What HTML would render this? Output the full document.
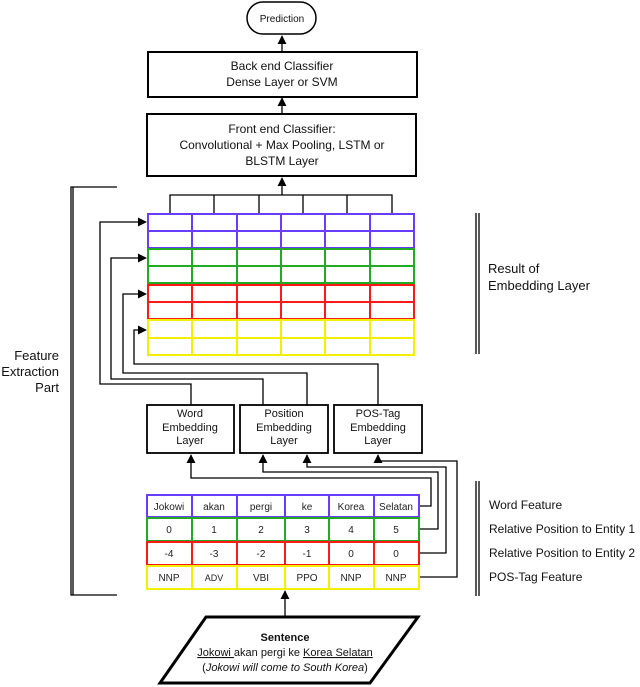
<!DOCTYPE html>
<html><head><meta charset="utf-8"><style>
html,body{margin:0;padding:0;background:#fff;}
svg{display:block;font-family:"Liberation Sans",sans-serif;}
</style></head><body>
<svg width="640" height="687" viewBox="0 0 640 687" xmlns="http://www.w3.org/2000/svg">
<defs>
<marker id="a" viewBox="0 0 10 10" refX="9" refY="5" markerWidth="7" markerHeight="7" orient="auto"><path d="M0,0L10,5L0,10z" fill="#000"/></marker>
</defs>
<g fill="none" stroke="#000" stroke-width="1.3">
<!-- top -->
<rect x="247" y="2" width="69" height="32" rx="16" stroke-width="1.5"/>
<rect x="148" y="52" width="269" height="45" stroke-width="2"/>
<rect x="147" y="114" width="269" height="62" stroke-width="2"/>
<line x1="282" y1="52" x2="282" y2="36" marker-end="url(#a)"/>
<line x1="282" y1="114" x2="282" y2="98" marker-end="url(#a)"/>
<line x1="282" y1="195" x2="282" y2="178" marker-end="url(#a)"/>
<path d="M170,214V195H392V214M214,195V214M259,195V214M303,195V214M347,195V214"/>
<!-- feeds into grid -->
<path d="M191,405V384H100V222H146" marker-end="url(#a)"/>
<path d="M263,405V379H111V258H146" marker-end="url(#a)"/>
<path d="M307,405V373H123V294H146" marker-end="url(#a)"/>
<path d="M378,405V364H134V330H146" marker-end="url(#a)"/>
<!-- embedding boxes -->
<rect x="147" y="405" width="87" height="48" stroke-width="1.8"/>
<rect x="240" y="405" width="88" height="48" stroke-width="1.8"/>
<rect x="334" y="405" width="88" height="48" stroke-width="1.8"/>
<!-- feature connectors -->
<path d="M419,506H431V478H191V455" marker-end="url(#a)"/>
<path d="M419,529H438V472H263V455" marker-end="url(#a)"/>
<path d="M419,553H446V467H307V455" marker-end="url(#a)"/>
<path d="M419,577H457V461H378V455" marker-end="url(#a)"/>
<line x1="285" y1="617" x2="285" y2="591" marker-end="url(#a)"/>
<!-- brackets -->
<path d="M117,187H71V595H117"/>
<line x1="73" y1="187" x2="73" y2="595"/>
<line x1="476" y1="213" x2="476" y2="354"/><line x1="479" y1="213" x2="479" y2="354"/>
<line x1="476" y1="481" x2="476" y2="596"/><line x1="479" y1="481" x2="479" y2="596"/>
<!-- sentence -->
<polygon points="206,617 418,617 370,683 160,683" stroke-width="3"/>
</g>
<!-- embedding grid -->
<g fill="none" stroke-width="2">
<g stroke="#6a3cff"><rect x="148" y="214" width="266" height="34"/><line x1="148" y1="231" x2="414" y2="231"/></g>
<g stroke="#22aa22"><rect x="148" y="249" width="266" height="34"/><line x1="148" y1="266" x2="414" y2="266"/></g>
<g stroke="#ff1a1a"><rect x="148" y="285" width="266" height="34"/><line x1="148" y1="302" x2="414" y2="302"/></g>
<g stroke="#f0f000"><rect x="148" y="320" width="266" height="35"/><line x1="148" y1="338" x2="414" y2="338"/></g>
<g stroke="#6a3cff"><path d="M192,214V248M237,214V248M281,214V248M325,214V248M370,214V248"/></g>
<g stroke="#22aa22"><path d="M192,249V283M237,249V283M281,249V283M325,249V283M370,249V283"/></g>
<g stroke="#ff1a1a"><path d="M192,285V319M237,285V319M281,285V319M325,285V319M370,285V319"/></g>
<g stroke="#f0f000"><path d="M192,320V355M237,320V355M281,320V355M325,320V355M370,320V355"/></g>
<!-- bottom table -->
<g stroke="#6a3cff"><rect x="147" y="495" width="272" height="22"/><path d="M192,495V517M237,495V517M285,495V517M329,495V517M374,495V517"/></g>
<g stroke="#22aa22"><rect x="147" y="518" width="272" height="23"/><path d="M192,518V541M237,518V541M285,518V541M329,518V541M374,518V541"/></g>
<g stroke="#ff1a1a"><rect x="147" y="542" width="272" height="23"/><path d="M192,542V565M237,542V565M285,542V565M329,542V565M374,542V565"/></g>
<g stroke="#f0f000"><rect x="147" y="566" width="272" height="23"/><path d="M192,566V589M237,566V589M285,566V589M329,566V589M374,566V589"/></g>
</g>
<g font-size="10" text-anchor="middle" fill="#222">
<text x="169" y="510">Jokowi</text><text x="214" y="510">akan</text><text x="261" y="510">pergi</text><text x="307" y="510">ke</text><text x="351" y="510">Korea</text><text x="396" y="510">Selatan</text>
<text x="169" y="533">0</text><text x="214" y="533">1</text><text x="261" y="533">2</text><text x="307" y="533">3</text><text x="351" y="533">4</text><text x="396" y="533">5</text>
<text x="169" y="557">-4</text><text x="214" y="557">-3</text><text x="261" y="557">-2</text><text x="307" y="557">-1</text><text x="351" y="557">0</text><text x="396" y="557">0</text>
<text x="169" y="581">NNP</text><text x="214" y="581" font-size="9">ADV</text><text x="261" y="581">VBI</text><text x="307" y="581">PPO</text><text x="351" y="581">NNP</text><text x="396" y="581">NNP</text>
</g>
<g text-anchor="middle" fill="#111">
<text x="282" y="22" font-size="10">Prediction</text>
<text x="282" y="70" font-size="12">Back end Classifier</text>
<text x="282" y="86" font-size="12">Dense Layer or SVM</text>
<text x="282" y="133" font-size="12">Front end Classifier:</text>
<text x="282" y="149" font-size="12">Convolutional + Max Pooling, LSTM or</text>
<text x="282" y="165" font-size="12">BLSTM Layer</text>
<g font-size="11">
<text x="190" y="417">Word</text><text x="190" y="431">Embedding</text><text x="190" y="444">Layer</text>
<text x="284" y="417">Position</text><text x="284" y="431">Embedding</text><text x="284" y="444">Layer</text>
<text x="378" y="417">POS-Tag</text><text x="378" y="431">Embedding</text><text x="378" y="444">Layer</text>
</g>
<text x="285" y="641" font-size="11" font-weight="bold">Sentence</text>
<text x="285" y="656" font-size="11"><tspan text-decoration="underline">Jokowi </tspan>akan pergi ke <tspan text-decoration="underline">Korea Selatan</tspan></text>
<text x="285" y="671" font-size="11">(<tspan font-style="italic">Jokowi will come to South Korea</tspan>)</text>
</g>
<g fill="#111" font-size="13">
<text x="59" y="360" text-anchor="end">Feature</text>
<text x="59" y="376" text-anchor="end">Extraction</text>
<text x="59" y="392" text-anchor="end">Part</text>
<text x="488" y="273">Result of</text>
<text x="488" y="290">Embedding Layer</text>
</g>
<g fill="#111" font-size="12">
<text x="489" y="509">Word Feature</text>
<text x="489" y="533">Relative Position to Entity 1</text>
<text x="489" y="557">Relative Position to Entity 2</text>
<text x="489" y="581">POS-Tag Feature</text>
</g>
</svg>
</body></html>
